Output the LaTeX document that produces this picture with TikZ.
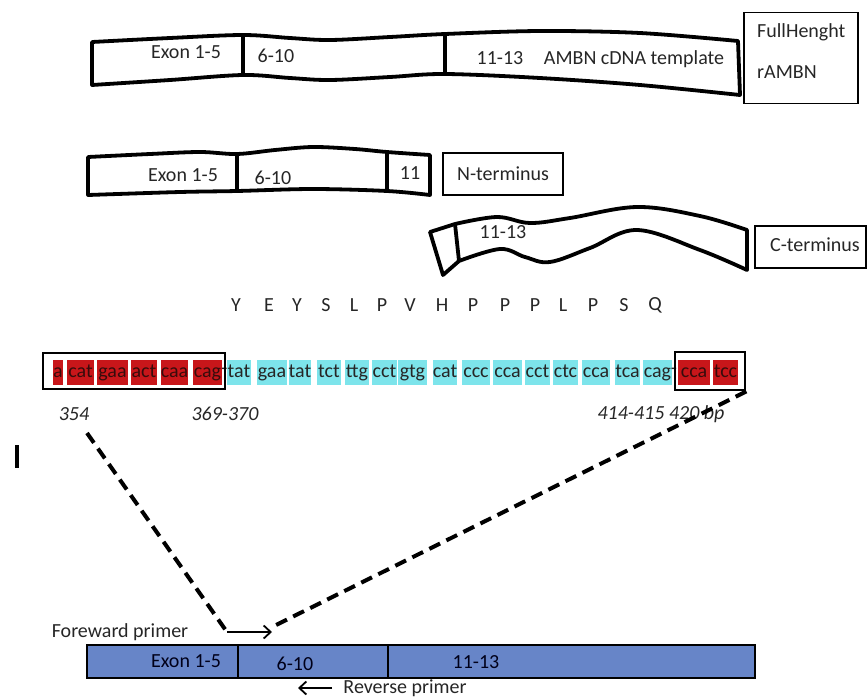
\documentclass[tikz,border=0pt]{standalone}
\usepackage{fontspec}
\setmainfont{Carlito}
\usetikzlibrary{arrows.meta}
\definecolor{redcell}{RGB}{200,22,26}
\definecolor{cyancell}{RGB}{125,228,235}
\definecolor{barblue}{RGB}{103,133,200}
\definecolor{celltext}{RGB}{55,12,12}
\begin{document}
\begin{tikzpicture}[x=1pt,y=-1pt,
  txt/.style={font=\fontsize{20}{22}\selectfont, inner sep=0pt, text=black!85},
  itxt/.style={font=\fontsize{20}{22}\selectfont\itshape, inner sep=0pt, text=black!85},
  bar/.style={draw=black, line width=3.8pt, line join=round},
  thinbox/.style={draw=black, line width=1.3pt, inner sep=0pt},
  seqbox/.style={draw=black, line width=2.8pt, inner sep=0pt},
  cell/.style={minimum height=25pt, inner xsep=0pt, inner ysep=0pt, text height=13pt, text depth=4pt, font=\fontsize{20}{22}\selectfont},
  redc/.style={cell, fill=redcell, text=celltext},
  cyanc/.style={cell, fill=cyancell, text=black!85},
  dashline/.style={draw=black, line width=4pt, dash pattern=on 12pt off 7pt},
  primer/.style={draw=black, line width=1.8pt, -{Straight Barb[length=7pt,width=13pt,line width=1.8pt]}}
]
\useasboundingbox (0,0) rectangle (867,699);

% ---------- full length template ----------
\draw[bar] plot[smooth,tension=0.55] coordinates {(92,42) (170,38) (243,35) (290,38) (330,40) (390,37) (445,34) (540,31) (640,33) (738,41)}
  -- plot[smooth,tension=0.55] coordinates {(740,95) (640,85) (540,78) (445,74) (390,77) (330,80) (290,78) (243,75) (170,80) (92,85)} -- cycle;
\draw[bar] (243,35) -- (243,75);
\draw[bar] (445,34) -- (445,74);
\node[txt] (t1a) at (186,52) {Exon 1-5};
\node[txt] (t1b) at (276,56) {6-10};
\node[txt] (t1c) at (500,58) {11-13};
\node[txt] (t1d) at (634,59) {AMBN cDNA template};
\node[thinbox, minimum width=114pt, minimum height=91pt] (fullbox) at (801,58) {};
\node[txt, anchor=west] (full1) at (757,32) {FullHenght};
\node[txt, anchor=west] (full2) at (757,72) {rAMBN};

% ---------- N-terminus ----------
\draw[bar] plot[smooth,tension=0.55] coordinates {(88,157) (150,154) (200,152) (237,154) (275,150) (313,147) (355,149) (387,152) (430,155)}
  -- plot[smooth,tension=0.55] coordinates {(430,195) (387,191) (313,189) (237,191) (180,192) (88,195)} -- cycle;
\draw[bar] (237,154) -- (237,191);
\draw[bar] (387,152) -- (387,191);
\node[txt] (t2a) at (183,175) {Exon 1-5};
\node[txt] (t2b) at (273,178) {6-10};
\node[txt] (t2c) at (410,173) {11};
\node[thinbox, minimum width=120pt, minimum height=42pt] (nbox) at (503,174) {};
\node[txt] (nterm) at (nbox) {N-terminus};

% ---------- C-terminus ----------
\draw[bar] (430,232) -- plot[smooth,tension=0.6] coordinates {(455,224) (497,217) (530,223) (570,218) (637,207) (700,216) (747,230)}
  -- plot[smooth,tension=0.6] coordinates {(747,270) (700,250) (637,230) (590,248) (550,262) (525,257) (500,249) (459,261)}
  -- (443,275) -- cycle;
\draw[bar] (455,224) -- (459,261);
\node[txt] (t3a) at (503,232) {11-13};
\node[thinbox, minimum width=111pt, minimum height=42pt] (cbox) at (810.5,247) {};
\node[txt] (cterm) at (815,245) {C-terminus};

% ---------- amino acids ----------
\foreach \x/\aa [count=\i] in {236/Y,269/E,297/Y,326/S,354/L,382/P,410/V,442/H,473/P,505/P,535/P,563/L,593/P,624/S,655/Q}{
  \node[txt] (aa\i) at (\x,305) {\aa};
}

% ---------- sequence cells ----------
\node[redc, minimum width=10pt] (r1) at (58,372.5) {a};
\node[redc, minimum width=27pt] (r2) at (80.5,372.5) {cat};
\node[redc, minimum width=31pt] (r3) at (112.5,372.5) {gaa};
\node[redc, minimum width=26pt] (r4) at (144,372.5) {act};
\node[redc, minimum width=27pt] (r5) at (174.5,372.5) {caa};
\node[redc, minimum width=29pt] (r6) at (207.5,372.5) {cag};
\node[txt] (h1) at (224.5,371) {-};
\foreach \x/\w/\c [count=\i] in {239/24/tat,272/30/gaa,300/22/tat,329/24/tct,357/24/ttg,384.5/25/cct,412.5/29/gtg,445/24/cat,476/28/ccc,507.5/29/cca,537.5/25/cct,565.5/25/ctc,596/28/cca,627.5/25/tca,657.5/29/cag}{
  \node[cyanc, minimum width=\w pt] (c\i) at (\x,372.5) {\c};
}
\node[txt] (h2) at (674,371) {-};
\node[redc, minimum width=32pt] (r7) at (694,372.5) {cca};
\node[redc, minimum width=25pt] (r8) at (725.5,372.5) {tcc};
\node[seqbox, minimum width=182pt, minimum height=36pt] (box1) at (134,371) {};
\node[seqbox, minimum width=70pt, minimum height=38pt] (box2) at (710,371) {};

% ---------- position labels ----------
\node[itxt] (p354) at (74,414) {354};
\node[itxt] (p369) at (225,414) {369-370};
\node[itxt] (p414) at (661,414) {414-415 420 bp};

% stray mark
\draw[line width=3.5pt] (17,445) -- (17,468);

% ---------- primers and dashed guides ----------
\coordinate (d1start) at (87,433);
\coordinate (fwdstart) at (227,632);
\coordinate (fwdtip) at (272,632);
\coordinate (d2end) at (272,627);
\draw[dashline] (d1start) -- (fwdstart);
\draw[dashline] (box2.south east) -- (d2end);
\draw[primer] (fwdstart) -- (fwdtip);
\node[txt] (fwdlab) at (120,632) {Foreward primer};

% ---------- bottom construct ----------
\node[draw=black, fill=barblue, line width=2.6pt, minimum width=668pt, minimum height=33pt, inner sep=0pt] (bbar) at (421,661.5) {};
\draw[line width=2.6pt] (238,645) -- (238,678);
\draw[line width=2.6pt] (388,645) -- (388,678);
\node[txt, text=black!90!blue] (b1) at (186,661) {Exon 1-5};
\node[txt, text=black!90!blue] (b2) at (295,664) {6-10};
\node[txt, text=black!90!blue] (b3) at (476,662) {11-13};
\coordinate (revstart) at (332,688);
\coordinate (revtip) at (298,688);
\draw[primer] (revstart) -- (revtip);
\node[txt] (revlab) at (405,688) {Reverse primer};
\end{tikzpicture}
\end{document}
